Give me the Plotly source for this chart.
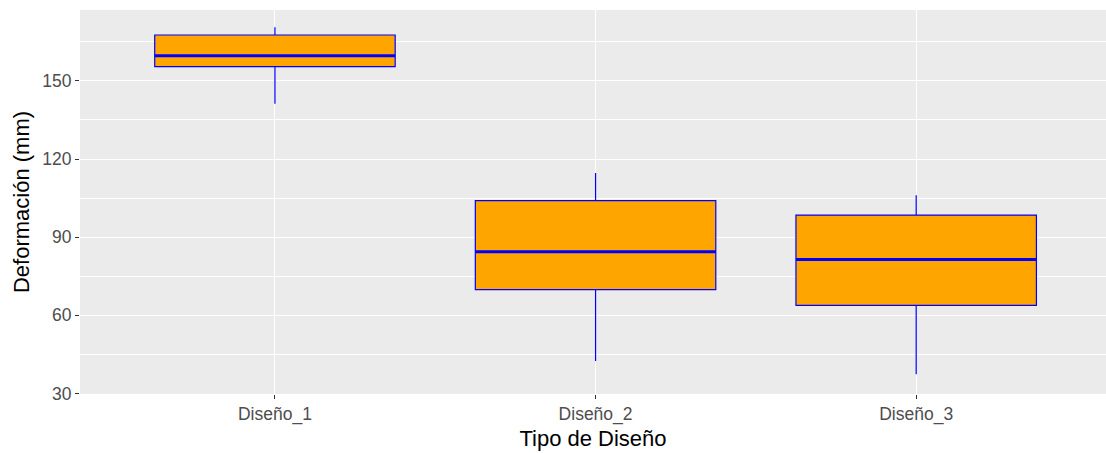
import plotly.graph_objects as go

categorias = ["Diseño_1", "Diseño_2", "Diseño_3"]
bigote_inf = [141.2, 42.5, 37.4]
q1 = [155.5, 69.9, 63.8]
mediana = [159.6, 84.4, 81.4]
q3 = [167.6, 104.0, 98.5]
bigote_sup = [170.6, 114.6, 106.1]
y_ticks = [30, 60, 90, 120, 150]

fig = go.Figure()
fig.add_trace(go.Box(
    x=categorias, q1=q1, median=mediana, q3=q3,
    lowerfence=bigote_inf, upperfence=bigote_sup,
    fillcolor="#FFA500", line=dict(color="#0000FF", width=1.2),
    whiskerwidth=0, width=0.75, boxpoints=False, showlegend=False,
    hoverinfo="skip",
))
# thicker median line (degenerate box at median)
fig.add_trace(go.Box(
    x=categorias, q1=mediana, median=mediana, q3=mediana,
    lowerfence=mediana, upperfence=mediana,
    fillcolor="rgba(0,0,0,0)", line=dict(color="#0000FF", width=3),
    whiskerwidth=0, width=0.75, boxpoints=False, showlegend=False,
    hoverinfo="skip",
))

fig.update_layout(
    width=1106, height=453,
    margin=dict(l=80, r=0, t=10, b=59, autoexpand=False),
    paper_bgcolor="white", plot_bgcolor="#EBEBEB",
    boxmode="overlay",
    font=dict(family="Liberation Sans, Arial, sans-serif"),
)
fig.update_xaxes(
    type="category", range=[-0.608, 2.592],
    showgrid=True, gridcolor="white", gridwidth=1.3,
    ticks="outside", ticklen=4, tickcolor="#333333", tickwidth=1,
    tickfont=dict(size=17.5, color="#4D4D4D"),
    title=dict(text="Tipo de Diseño", font=dict(size=22, color="black"), standoff=6),
    zeroline=False, showline=False, automargin=True,
)
fig.update_yaxes(
    range=[29.8, 177.2],
    tickvals=y_ticks,
    showgrid=True, gridcolor="white", gridwidth=1.3,
    minor=dict(dtick=15, tick0=0, showgrid=True, gridcolor="white", gridwidth=0.7, ticks=""),
    ticks="outside", ticklen=4, tickcolor="#333333", tickwidth=1,
    tickfont=dict(size=17.5, color="#4D4D4D"),
    title=dict(text="Deformación (mm)", font=dict(size=22, color="black"), standoff=6),
    zeroline=False, showline=False, automargin=True,
)

fig.write_html(
    "out.html",
    config={"displayModeBar": False},
    post_script=(
        "document.documentElement.style.overflow='hidden';"
        "document.body.style.margin='0';document.body.style.overflow='hidden';"
    ),
)
